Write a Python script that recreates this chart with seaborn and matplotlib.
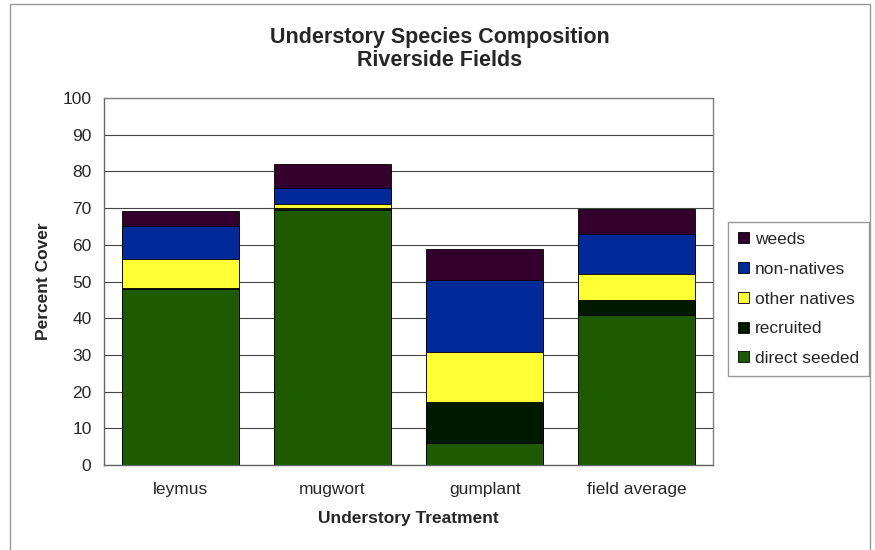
import numpy as np
import pandas as pd
import seaborn as sns
import matplotlib.pyplot as plt
from matplotlib.patches import Rectangle, Patch

# data (percent cover)
treatments = ['leymus', 'mugwort', 'gumplant', 'field average']
direct_seeded = [48.0, 69.5, 6.0, 41.0]
recruited = [0.2, 0.5, 11.2, 4.0]
other_natives = [7.8, 1.2, 13.7, 7.0]
non_natives = [9.0, 4.3, 19.5, 11.0]
weeds = [4.3, 6.5, 8.4, 6.7]

series = ['direct seeded', 'recruited', 'other natives', 'non-natives', 'weeds']
colors = {'direct seeded': '#1e5a00', 'recruited': '#001a00', 'other natives': '#ffff33',
          'non-natives': '#002a99', 'weeds': '#33002e'}

df = pd.DataFrame({'treatment': treatments, 'direct seeded': direct_seeded,
                   'recruited': recruited, 'other natives': other_natives,
                   'non-natives': non_natives, 'weeds': weeds})
cum = df[series].cumsum(axis=1)
cum['treatment'] = df['treatment']

sns.set_style('white')
plt.rcParams['font.family'] = ['Liberation Sans', 'DejaVu Sans']

fig = plt.figure(figsize=(8.75, 5.5), dpi=100)
ax = fig.add_axes([104/875, 1-465/550, (713-104)/875, (465-98)/550])

# stacked bars: draw cumulative totals from the top layer down
for s in reversed(series):
    sns.barplot(data=cum, x='treatment', y=s, color=colors[s], width=0.77,
                edgecolor='black', linewidth=0.6, saturation=1, ax=ax, zorder=3)

ax.set_ylim(0, 100)
ax.set_xlim(-0.5, 3.5)
ax.set_yticks(range(0, 101, 10))
ax.yaxis.grid(True, color='#444444', linewidth=0.8, zorder=0)
ax.set_axisbelow(True)
for sp in ax.spines.values():
    sp.set_color('#808080')
    sp.set_linewidth(1)
ax.spines['left'].set_color('#666666')
ax.spines['bottom'].set_color('#666666')

ax.set_xticks(np.arange(4))
ax.set_xticks(np.arange(-0.5, 4, 1), minor=True)
ax.tick_params(axis='x', which='major', length=0, pad=12, labelsize=12.5)
ax.tick_params(axis='x', which='minor', length=5, color='#666666', direction='out')
ax.tick_params(axis='y', length=5, color='#666666', direction='out', labelsize=12.5, pad=4)

ax.set_xlabel('Understory Treatment', fontsize=12.5, fontweight='bold', labelpad=10)
ax.set_ylabel('Percent Cover', fontsize=12.5, fontweight='bold', labelpad=8)

fig.text(440/875, 1-37/550, 'Understory Species Composition', ha='center', va='center',
         fontsize=15.5, fontweight='bold')
fig.text(440/875, 1-61/550, 'Riverside Fields', ha='center', va='center',
         fontsize=15.5, fontweight='bold')

handles = [Patch(facecolor=colors[s], edgecolor='black', linewidth=0.6, label=s)
           for s in reversed(series)]
leg = fig.legend(handles=handles, loc='center left', bbox_to_anchor=(728/875, 1-299/550),
                 fontsize=12.5, handlelength=0.6, handleheight=0.6, handletextpad=0.35,
                 labelspacing=0.85, fancybox=False, edgecolor='#808080', borderpad=0.6,
                 borderaxespad=0)
leg.get_frame().set_linewidth(1)

fig.patches.append(Rectangle((10/875, -0.01), 860/875, 1-4/550 + 0.01, transform=fig.transFigure,
                             fill=False, edgecolor='#999999', linewidth=1))

fig.savefig('out.png', dpi=100)
